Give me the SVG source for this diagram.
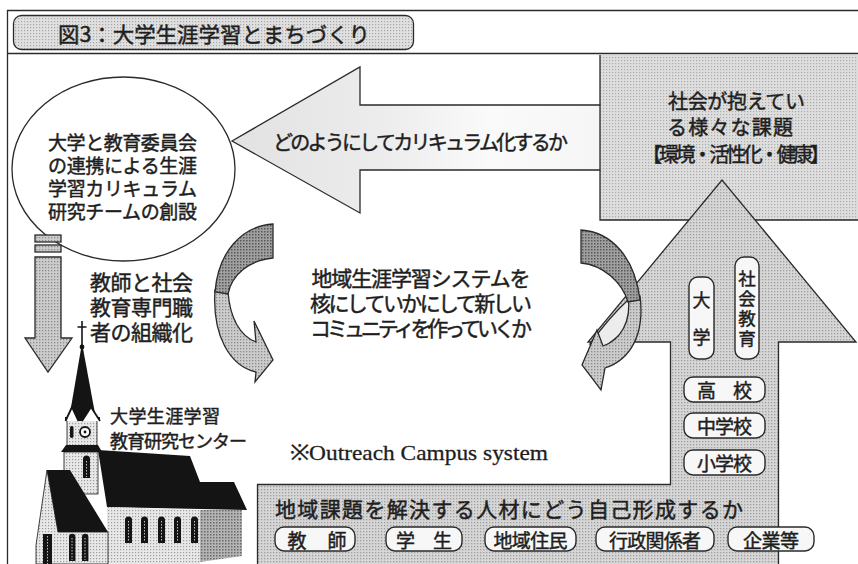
<svg xmlns="http://www.w3.org/2000/svg" width="858" height="564" viewBox="0 0 858 564">
<defs>
  <!-- halftone screens -->
  <pattern id="toneTitle" width="3" height="3" patternUnits="userSpaceOnUse">
    <rect width="3" height="3" fill="#e0e0e0"/><rect width="1.2" height="1.2" fill="#a8a8a8"/>
  </pattern>
  <pattern id="toneBlock" width="3" height="3" patternUnits="userSpaceOnUse">
    <rect width="3" height="3" fill="#dedede"/><rect width="1.2" height="1.2" fill="#aaaaaa"/>
  </pattern>
  <pattern id="toneFlow" width="3" height="3" patternUnits="userSpaceOnUse">
    <rect width="3" height="3" fill="#d6d6d6"/><rect width="1.3" height="1.3" fill="#9e9e9e"/>
  </pattern>
  <pattern id="toneDark" width="3" height="3" patternUnits="userSpaceOnUse">
    <rect width="3" height="3" fill="#a0a0a0"/><rect width="1.5" height="1.5" fill="#585858"/>
  </pattern>
  <pattern id="toneLight" width="3" height="3" patternUnits="userSpaceOnUse">
    <rect width="3" height="3" fill="#cccccc"/><rect width="1.3" height="1.3" fill="#8c8c8c"/>
  </pattern>
  <pattern id="toneWall" width="3" height="3" patternUnits="userSpaceOnUse">
    <rect width="3" height="3" fill="#e8e8e8"/><rect width="1.2" height="1.2" fill="#9c9c9c"/>
  </pattern>
  <pattern id="toneShade" width="3" height="3" patternUnits="userSpaceOnUse">
    <rect width="3" height="3" fill="#b4b4b4"/><rect width="1.5" height="1.5" fill="#6a6a6a"/>
  </pattern>
  <linearGradient id="leftArrowFill" gradientUnits="userSpaceOnUse" x1="232" y1="0" x2="600" y2="0">
    <stop offset="0" stop-color="#e2e2e2"/>
    <stop offset="0.4" stop-color="#ececec"/>
    <stop offset="0.7" stop-color="#fafafa"/>
    <stop offset="1" stop-color="#f6f6f6"/>
  </linearGradient>
  <style>
    .ln { stroke: #2a2a2a; stroke-width: 1.3; }
    .jp { font-family: "Noto Sans CJK JP", "Noto Sans", sans-serif; fill: #1e1e1e; stroke: #1e1e1e; stroke-width: 0.45; dominant-baseline: central; }
    .vt { writing-mode: vertical-rl; }
    .pill { fill: #f7f7f7; stroke: #2a2a2a; stroke-width: 1.4; }
    .blk { fill: #141414; }
  </style>
</defs>

<rect width="858" height="564" fill="#ffffff"/>

<!-- page frame -->
<g id="frame" fill="none" class="ln">
  <path d="M7.5,566 V10.5 H860"/>
  <path d="M7.5,53.5 H860"/>
</g>

<!-- title -->
<g id="title">
  <rect x="13.5" y="15.5" width="400" height="34" rx="8" fill="url(#toneTitle)" class="ln"/>
  <text x="58" y="33" class="jp" font-size="21" textLength="312" lengthAdjust="spacingAndGlyphs">図3：大学生涯学習とまちづくり</text>
</g>

<!-- flow band: upper-right block, rising arrow with base band, leftward arrow -->
<g id="flow">
  <rect x="600" y="55" width="260" height="165" fill="url(#toneBlock)"/>
  <path d="M600,55 V105 M600,170 V220 H860" fill="none" class="ln"/>
  <path id="rise-arrow" d="M257.5,568 V484.5 H670.5 V342 H588 L722,180 L856,342 H778.5 V568" fill="url(#toneFlow)" class="ln"/>
  <path id="left-arrow" d="M232,141 L360,67 V105 H600 V170 H360 V213 Z" fill="url(#leftArrowFill)" class="ln"/>
</g>

<!-- research team -->
<g id="team">
  <ellipse cx="123.5" cy="169" rx="111.5" ry="92" fill="#ffffff" class="ln"/>
  <text x="122.5" y="141" class="jp" font-size="19" text-anchor="middle" textLength="149">大学と教育委員会</text>
  <text x="122.5" y="164" class="jp" font-size="19" text-anchor="middle" textLength="149">の連携による生涯</text>
  <text x="122.5" y="187" class="jp" font-size="19" text-anchor="middle" textLength="149">学習カリキュラム</text>
  <text x="122.5" y="210" class="jp" font-size="19" text-anchor="middle" textLength="149">研究チームの創設</text>
</g>

<!-- arrows -->
<g id="connectors">
  <g id="down-arrow">
    <rect x="35" y="235" width="26" height="7" fill="url(#toneLight)" class="ln"/>
    <rect x="35" y="245" width="26" height="7" fill="url(#toneLight)" class="ln"/>
    <path d="M35,257 H61 V338 H72 L48,372 L25,338 H35 Z" fill="url(#toneLight)" class="ln"/>
  </g>
  <g id="curl-left">
    <path d="M228,292 C230,318 240,336 256,342 L254,321 L273,360 L255,382 L256,372 C230,366 212,336 215,290 Z" fill="url(#toneLight)" class="ln"/>
    <path d="M273,224 L273,258 C250,260 232,274 228,294 L215,292 C218,252 242,226 273,224 Z" fill="url(#toneDark)" class="ln"/>
  </g>
  <g id="curl-right">
    <path d="M628,300 C615,312 600,330 590,344 L598,343 L593,356 C606,346 620,335 636,322 Z" fill="#ececec" class="ln"/>
    <path d="M628,296 C632,322 620,340 603,346 L597,330 L582,365 L601,390 L605,368 C630,360 645,335 640,296 Z" fill="url(#toneLight)" class="ln"/>
    <path d="M581,230 C612,232 635,258 640,300 L628,302 C622,282 603,265 581,263 Z" fill="url(#toneDark)" class="ln"/>
  </g>
</g>

<!-- education research center -->
<g id="church">
  <path d="M82,321 V350 M77.5,327 H86.5" stroke="#141414" stroke-width="1.6"/>
  <circle cx="82" cy="347" r="2.4" class="blk"/>
  <polygon points="82,343 69,419 96,419" class="blk"/>
  <rect x="67" y="420" width="30" height="26" fill="url(#toneWall)" stroke="#141414" stroke-width="0.8"/>
  <rect x="65" y="417" width="35" height="4" class="blk"/>
  <path d="M65.5,421 L72,407 L78.5,421 M82,421 L91,407 L100,421" fill="#ffffff" stroke="#141414" stroke-width="1.8"/>
  <circle cx="85" cy="432" r="5" fill="#ffffff" stroke="#141414" stroke-width="1.8"/>
  <circle cx="85" cy="432" r="1.4" class="blk"/>
  <rect x="70" y="426" width="3.5" height="12" rx="1.7" class="blk"/>
  <polygon points="61,452 66,445 98,445 102,452" class="blk"/>
  <rect x="64" y="452" width="34" height="42" fill="url(#toneWall)" stroke="#141414" stroke-width="0.8"/>
  <path d="M83,478 V459 A3.5,3.5 0 0 1 90,459 V478 Z" class="blk"/>
  <polygon points="98,450 190,456 200,482 234,482 247,510 107,507" class="blk"/>
  <polygon points="107,507 200,510 200,564 107,564" fill="url(#toneWall)"/>
  <polygon points="200,510 242,510 242,556 200,562" fill="url(#toneShade)"/>
  <polygon points="47,470 58,532 108,532 108,564 36,564 36,545" fill="url(#toneWall)" stroke="#141414" stroke-width="0.8"/>
  <polygon points="47,470 70,470 108,532 58,532" class="blk"/>
  <g class="blk">
    <path d="M125,543 V520 A3.5,3.5 0 0 1 132,520 V543 Z"/>
    <path d="M141,543 V520 A3.5,3.5 0 0 1 148,520 V543 Z"/>
    <path d="M158,543 V520 A3.5,3.5 0 0 1 165,520 V543 Z"/>
    <path d="M174,543 V520 A3.5,3.5 0 0 1 181,520 V543 Z"/>
    <path d="M191,543 V520 A3.5,3.5 0 0 1 198,520 V543 Z"/>
    <path d="M69,561 V537 A3.2,3.2 0 0 1 75.4,537 V561 Z"/>
    <path d="M82,561 V537 A3.2,3.2 0 0 1 88.4,537 V561 Z"/>
    <rect x="43" y="534" width="9" height="30"/>
  </g>
  <g stroke="#bdbdbd" stroke-width="1" stroke-dasharray="1.5 1.5">
    <path d="M128.5,521 V542 M144.5,521 V542 M161.5,521 V542 M177.5,521 V542 M194.5,521 V542 M86.5,461 V477 M72,538 V560 M85,538 V560 M47.5,536 V564"/>
  </g>
</g>

<!-- captions -->
<g id="labels">
  <text x="273" y="141" class="jp" font-size="20" textLength="295">どのようにしてカリキュラム化するか</text>
  <text x="668" y="100" class="jp" font-size="20" textLength="137">社会が抱えてい</text>
  <text x="667" y="126" class="jp" font-size="20" textLength="126">る様々な課題</text>
  <text x="642" y="153" class="jp" font-size="20" textLength="188">【環境・活性化・健康】</text>
  <text x="90" y="281" class="jp" font-size="21" textLength="103">教師と社会</text>
  <text x="90" y="306" class="jp" font-size="21" textLength="103">教育専門職</text>
  <text x="90" y="331" class="jp" font-size="21" textLength="103">者の組織化</text>
  <text x="421" y="277" class="jp" font-size="21" text-anchor="middle" textLength="219">地域生涯学習システムを</text>
  <text x="421" y="302" class="jp" font-size="21" text-anchor="middle" textLength="222">核にしていかにして新しい</text>
  <text x="421" y="327" class="jp" font-size="21" text-anchor="middle" textLength="222">コミュニティを作っていくか</text>
  <text x="110" y="415" class="jp" font-size="18" textLength="110">大学生涯学習</text>
  <text x="110" y="440" class="jp" font-size="18" textLength="137">教育研究センター</text>
  <text x="290" y="460" font-family="Liberation Serif, serif" font-size="22" fill="#1e1e1e" stroke="#1e1e1e" stroke-width="0.3" textLength="258" lengthAdjust="spacingAndGlyphs">※Outreach Campus system</text>
  <text x="275" y="508" class="jp" font-size="21" textLength="468">地域課題を解決する人材にどう自己形成するか</text>
</g>

<!-- institutions on the rising arrow -->
<g id="institutions">
  <g id="univ">
    <rect x="689" y="277" width="25" height="82" rx="9" class="pill"/>
    <text x="701.5" y="291" class="jp vt" font-size="18" letter-spacing="19">大学</text>
  </g>
  <g id="social-edu">
    <rect x="735" y="257" width="24" height="102" rx="9" class="pill"/>
    <text x="747" y="270" class="jp vt" font-size="17.5" letter-spacing="2.5">社会教育</text>
  </g>
  <g id="high">
    <rect x="684" y="377" width="81" height="25" rx="9" class="pill"/>
    <text x="724.5" y="389.5" class="jp" font-size="19" text-anchor="middle" textLength="55">高　校</text>
  </g>
  <g id="junior">
    <rect x="684" y="413" width="81" height="25" rx="9" class="pill"/>
    <text x="724.5" y="425.5" class="jp" font-size="19" text-anchor="middle" textLength="55">中学校</text>
  </g>
  <g id="elementary">
    <rect x="684" y="450" width="81" height="25" rx="9" class="pill"/>
    <text x="724.5" y="462.5" class="jp" font-size="19" text-anchor="middle" textLength="55">小学校</text>
  </g>
</g>

<!-- people -->
<g id="people">
  <g id="teacher">
    <rect x="275" y="527" width="80" height="24" rx="9" class="pill"/>
    <text x="317" y="539" class="jp" font-size="19" text-anchor="middle" textLength="59">教　師</text>
  </g>
  <g id="student">
    <rect x="386" y="527" width="76" height="24" rx="9" class="pill"/>
    <text x="424" y="539" class="jp" font-size="19" text-anchor="middle" textLength="56">学　生</text>
  </g>
  <g id="resident">
    <rect x="485" y="527" width="91" height="24" rx="9" class="pill"/>
    <text x="530.5" y="539" class="jp" font-size="19" text-anchor="middle" textLength="74">地域住民</text>
  </g>
  <g id="officials">
    <rect x="596" y="527" width="118" height="24" rx="9" class="pill"/>
    <text x="655" y="539" class="jp" font-size="19" text-anchor="middle" textLength="92">行政関係者</text>
  </g>
  <g id="business">
    <rect x="728" y="527" width="86" height="24" rx="9" class="pill"/>
    <text x="771" y="539" class="jp" font-size="19" text-anchor="middle" textLength="56">企業等</text>
  </g>
</g>
</svg>
